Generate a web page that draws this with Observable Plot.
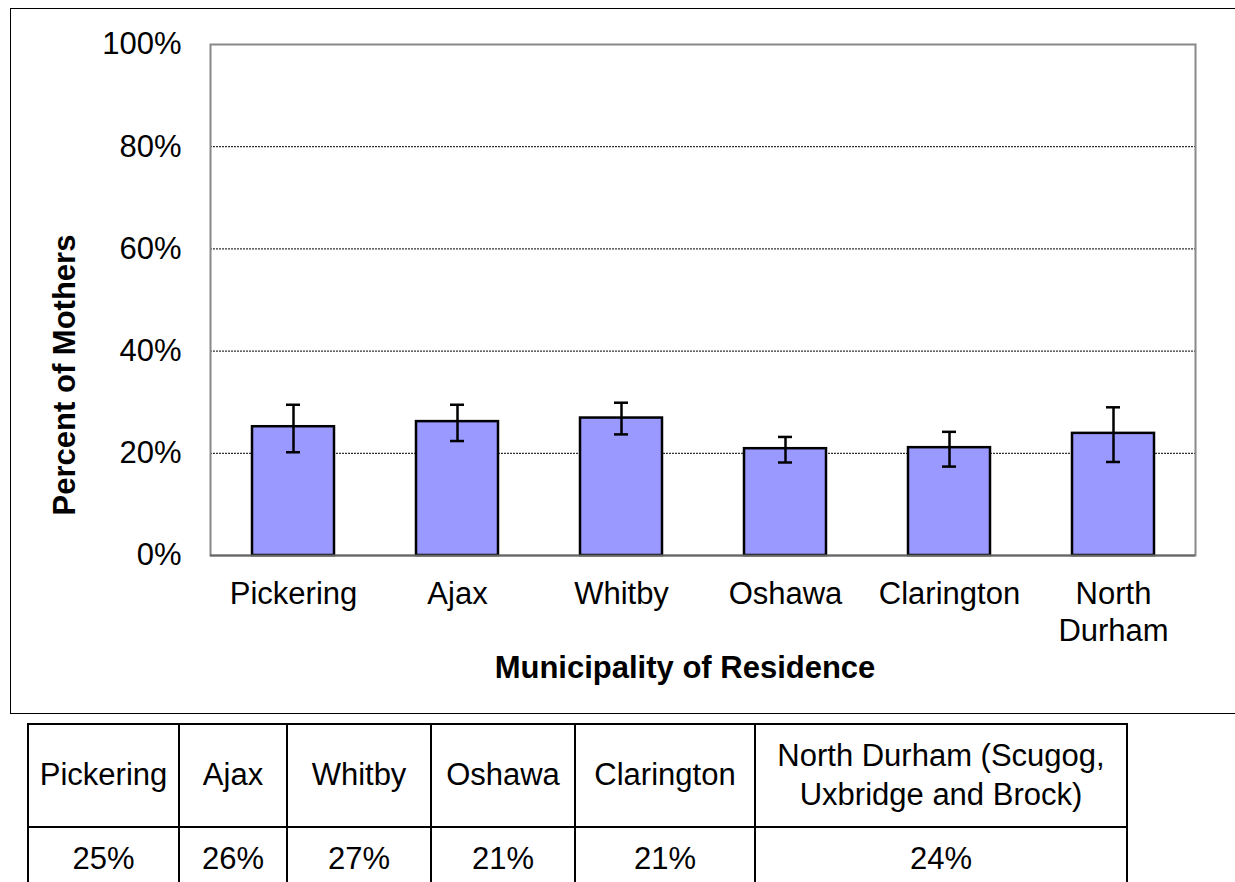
<!DOCTYPE html>
<html>
<head>
<meta charset="utf-8">
<script src="https://cdn.jsdelivr.net/npm/d3@7"></script>
<script src="https://cdn.jsdelivr.net/npm/@observablehq/plot@0.6"></script>
<style>
  html, body { margin: 0; padding: 0; background: #fff; }
  body { width: 1235px; height: 882px; position: relative; overflow: hidden; font-family: "Liberation Sans", Arial, sans-serif; }
  #frame { position: absolute; left: 10px; top: 8px; width: 1240px; height: 706px; border: 1.5px solid #000; box-sizing: border-box; }
  #chart { position: absolute; left: 10px; top: 8px; }
  #tbl { position: absolute; left: 27px; top: 723px; border-collapse: collapse; table-layout: fixed; font-size: 31px; color: #000; }
  #tbl td { border: 2px solid #000; text-align: center; vertical-align: middle; padding: 0; line-height: 1.25; white-space: nowrap; }
  #tbl tr.h td { height: 101px; }
  #tbl tr.v td { height: 62px; }
</style>
</head>
<body>
<div id="frame"></div>
<div id="chart"></div>
<table id="tbl"></table>
<script>
// Data
const municipalities = ["Pickering", "Ajax", "Whitby", "Oshawa", "Clarington", "North Durham"];
const tickLabels = ["Pickering", "Ajax", "Whitby", "Oshawa", "Clarington", "North\nDurham"];
const percentValues = [25.2, 26.2, 26.9, 20.9, 21.1, 23.9];
const ciLower = [20.2, 22.4, 23.7, 18.2, 17.4, 18.3];
const ciUpper = [29.5, 29.5, 29.9, 23.2, 24.2, 29.0];
const yTicks = [0, 20, 40, 60, 80, 100];
const tableHeaders = ["Pickering", "Ajax", "Whitby", "Oshawa", "Clarington", "North Durham (Scugog,<br>Uxbridge and Brock)"];
const tableValues = ["25%", "26%", "27%", "21%", "21%", "24%"];
const xTitle = "Municipality of Residence";
const yTitle = "Percent of Mothers";

const data = municipalities.map((m, i) => ({m, v: percentValues[i], lo: ciLower[i], hi: ciUpper[i]}));
const labelOf = new Map(municipalities.map((m, i) => [m, tickLabels[i]]));

const chart = Plot.plot({
  width: 1225,
  height: 707,
  marginLeft: 200,
  marginRight: 40,
  marginTop: 36,
  marginBottom: 160,
  style: {fontFamily: "'Liberation Sans', Arial, sans-serif", fontSize: "31px", color: "#000", background: "transparent", overflow: "visible"},
  x: {domain: municipalities, paddingInner: 0.5, paddingOuter: 0.25, axis: null},
  y: {domain: [0, 100], axis: null},
  marks: [
    Plot.ruleY([20, 40, 60, 80], {stroke: "#000", strokeWidth: 1, strokeDasharray: "2,1"}),
    Plot.frame({stroke: "#888", strokeWidth: 2}),
    Plot.barY(data, {x: "m", y: "v", fill: "#9999ff", stroke: "#000", strokeWidth: 2.5}),
    Plot.ruleY([0], {stroke: "#666", strokeWidth: 2}),
    Plot.ruleX(data, {x: "m", y1: "lo", y2: "hi", stroke: "#000", strokeWidth: 2.5}),
    Plot.tickY(data, {x: "m", y: "lo", stroke: "#000", strokeWidth: 2.5, insetLeft: 34, insetRight: 34}),
    Plot.tickY(data, {x: "m", y: "hi", stroke: "#000", strokeWidth: 2.5, insetLeft: 34, insetRight: 34}),
    Plot.axisY(yTicks, {tickSize: 0, tickPadding: 29, tickFormat: d => d + "%", fontSize: 31, label: null}),
    Plot.axisX({tickSize: 0, tickPadding: 22, tickFormat: d => labelOf.get(d), fontSize: 31, lineHeight: 1.2, label: null}),
    Plot.text([xTitle], {frameAnchor: "bottom", dx: -18, dy: 122, fontWeight: "bold", fontSize: 31}),
    Plot.text([yTitle], {frameAnchor: "left", dx: -145, dy: 75, rotate: -90, textAnchor: "middle", fontWeight: "bold", fontSize: 31})
  ]
});
document.getElementById("chart").appendChild(chart);

const colWidths = [151, 108, 144, 144, 180, 372];
const tbl = document.getElementById("tbl");
const hr = document.createElement("tr"); hr.className = "h";
tableHeaders.forEach((h, i) => { const td = document.createElement("td"); td.style.width = (colWidths[i] - 2) + "px"; td.innerHTML = h; hr.appendChild(td); });
const vr = document.createElement("tr"); vr.className = "v";
tableValues.forEach(v => { const td = document.createElement("td"); td.textContent = v; vr.appendChild(td); });
tbl.appendChild(hr); tbl.appendChild(vr);
</script>
</body>
</html>
